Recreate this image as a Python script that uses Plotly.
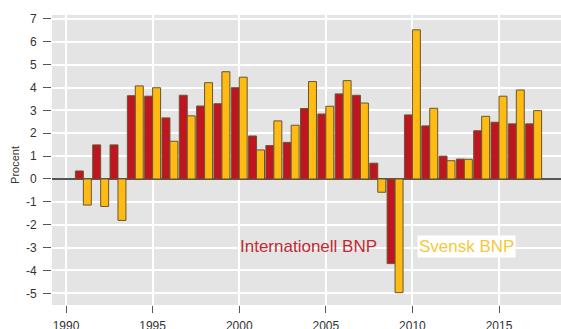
import plotly.graph_objects as go

years = list(range(1991, 2018))
intl_bnp = [0.35, 1.49, 1.49, 3.64, 3.62, 2.67, 3.66, 3.19, 3.29, 3.99, 1.88, 1.46, 1.60,
            3.08, 2.84, 3.72, 3.66, 0.69, -3.70, 2.80, 2.32, 1.00, 0.87, 2.11, 2.48, 2.41, 2.41]
svensk_bnp = [-1.14, -1.20, -1.81, 4.07, 3.99, 1.65, 2.76, 4.21, 4.69, 4.45, 1.27, 2.54, 2.35,
              4.26, 3.18, 4.30, 3.32, -0.58, -4.97, 6.52, 3.09, 0.80, 0.86, 2.74, 3.62, 3.89, 2.99]
x_ticks = [1990, 1995, 2000, 2005, 2010, 2015]
y_ticks = [-5, -4, -3, -2, -1, 0, 1, 2, 3, 4, 5, 6, 7]
y_ticktext = [str(v) for v in y_ticks]

RED = "#bf1520"
YEL = "#fdbb14"
OUTLINE = "#6a5430"

fig = go.Figure()
fig.add_trace(go.Bar(x=years, y=intl_bnp, name="Internationell BNP",
                     marker=dict(color=RED, line=dict(color=OUTLINE, width=1))))
fig.add_trace(go.Bar(x=years, y=svensk_bnp, name="Svensk BNP",
                     marker=dict(color=YEL, line=dict(color=OUTLINE, width=1))))

fig.update_layout(
    width=561, height=329,
    margin=dict(l=52, r=0, t=15, b=24),
    barmode="group", bargap=0.08, bargroupgap=0,
    plot_bgcolor="#e4e4e4", paper_bgcolor="white",
    showlegend=False,
    font=dict(family="Liberation Sans, Arial, sans-serif", size=12, color="#333333"),
    xaxis=dict(range=[1989.19, 2018.58], tickvals=x_ticks, ticks="outside", ticklen=7,
               tickcolor="#555555", gridcolor="white", gridwidth=1.5, showline=False,
               zeroline=False, ticklabelstandoff=3, automargin=False),
    yaxis=dict(range=[-5.51, 7.17], tickvals=y_ticks, ticktext=y_ticktext,
               ticks="outside", ticklen=8, automargin=False,
               tickcolor="#555555", gridcolor="white", gridwidth=1.5, showline=False,
               zeroline=True, zerolinecolor="#555555", zerolinewidth=1.5,
               ticklabelstandoff=4),
    annotations=[
        dict(text="Procent", textangle=-90, xref="paper", yref="paper", x=0, y=0.483,
             xanchor="center", yanchor="middle", xshift=-37, showarrow=False,
             font=dict(size=11, color="#333333")),
        dict(text="Internationell BNP", xref="x", yref="y", x=2004.0, y=-2.97,
             showarrow=False, font=dict(size=17, color="#c22a33")),
        dict(text="Svensk BNP", xref="x", yref="y", x=2013.1, y=-2.97,
             showarrow=False, bgcolor="white", borderpad=1,
             font=dict(size=17, color="#f6c83a")),
    ],
)

fig.write_html("out.html", config={"displayModeBar": False},
               post_script="document.body.style.margin='0';document.body.style.overflow='hidden';")
